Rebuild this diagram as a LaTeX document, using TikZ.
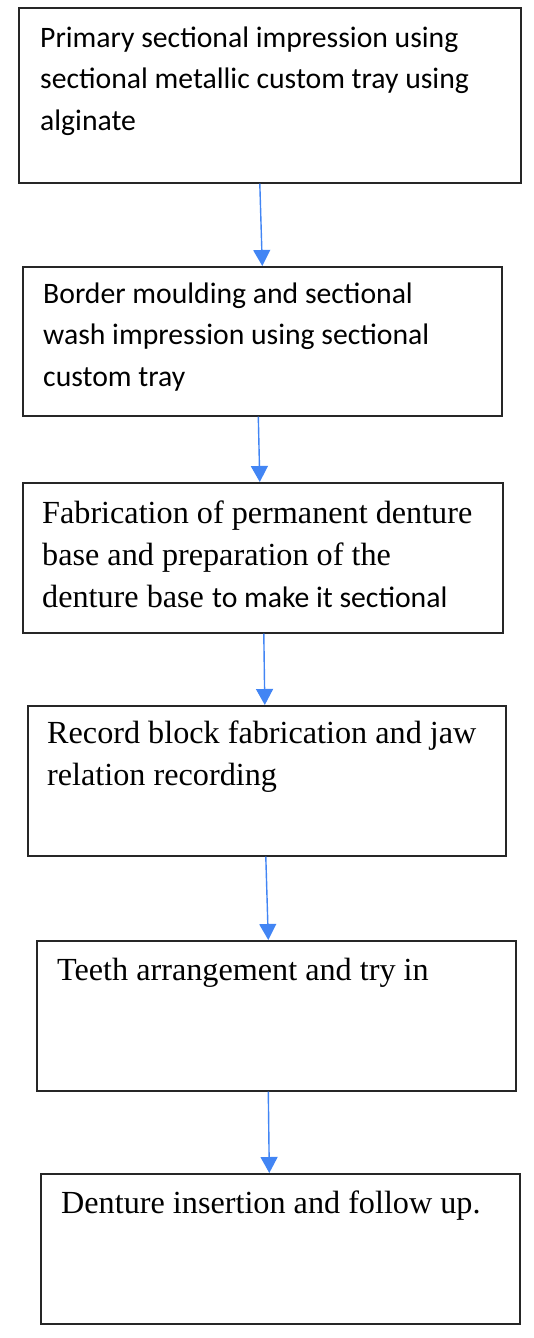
\documentclass[tikz,border=0pt]{standalone}
\usepackage{fontspec}
\setmainfont{Liberation Serif}
\newfontfamily\calibrifont{Carlito}
\usepackage{tikz}
\usetikzlibrary{positioning, arrows.meta}
\definecolor{arrowblue}{RGB}{66,133,244}
\tikzset{
    box_style/.style={
        rectangle,            % 方框
        draw=black!85,        % 边框颜色
        line width=1.6pt,     % 边框粗细
        fill=white,           % 填充颜色
        inner sep=0pt,
        anchor=north west     % 用左上角定位
    },
    serif_text/.style={
        anchor=base west,     % 最后一行基线定位
        align=left,           % 左对齐
        inner sep=0pt,
        font=\fontsize{32.2}{42}\selectfont
    },
    sans_text/.style={
        serif_text,
        font=\calibrifont\fontsize{29.7}{41.5}\selectfont
    },
    arrow_style/.style={
        -{Triangle[length=16pt, width=17pt]}, % 三角形箭头
        draw=arrowblue,       % 蓝色箭头
        line width=1.4pt      % 线条粗细
    }
}
\begin{document}
\begin{tikzpicture}[x=1pt, y=-1pt]
            \useasboundingbox (0,0) rectangle (534,1338);
            % 1. 定义方框
            \node[box_style, minimum width=502pt, minimum height=175pt] (primary) at (18,7) {};
            \node[box_style, minimum width=479pt, minimum height=149pt] (border) at (22,266) {};
            \node[box_style, minimum width=480pt, minimum height=150pt] (base) at (22,482) {};
            \node[box_style, minimum width=478pt, minimum height=150pt] (record) at (27,705) {};
            \node[box_style, minimum width=479pt, minimum height=150pt] (teeth) at (36,940) {};
            \node[box_style, minimum width=479pt, minimum height=150pt] (insert) at (40,1173) {};

            % 2. 方框里的文字 (按最后一行基线放置)
            \node[sans_text] (primary_text) at ([shift={(22,123)}]primary.north west)
                {Primary sectional impression using\\sectional metallic custom tray using\\alginate};
            \node[sans_text] (border_text) at ([shift={(21,120)}]border.north west)
                {Border moulding and sectional\\wash impression using sectional\\custom tray};
            \node[serif_text] (base_text) at ([shift={(20,125)}]base.north west)
                {Fabrication of permanent denture\\base and preparation of the\\denture base {\calibrifont\fontsize{29.7}{42}\selectfont to make it sectional}};
            \node[serif_text] (record_text) at ([shift={(20,80)}]record.north west)
                {Record block fabrication and jaw\\relation recording};
            \node[serif_text] (teeth_text) at ([shift={(21,40)}]teeth.north west)
                {Teeth arrangement and try in};
            \node[serif_text] (insert_text) at ([shift={(21,40)}]insert.north west)
                {Denture insertion and follow up.};

            % 3. 绘制带箭头的连线
            \draw[arrow_style] ([xshift=-10pt]primary.south) -- (border.north);
            \draw[arrow_style] ([xshift=-4pt]border.south) -- ([xshift=-3pt]base.north);
            \draw[arrow_style] ([xshift=1pt]base.south) -- ([xshift=-2pt]record.north);
            \draw[arrow_style] ([xshift=-1pt]record.south) -- ([xshift=-8pt]teeth.north);
            \draw[arrow_style] ([xshift=-8pt]teeth.south) -- ([xshift=-11pt]insert.north);
\end{tikzpicture}
\end{document}
